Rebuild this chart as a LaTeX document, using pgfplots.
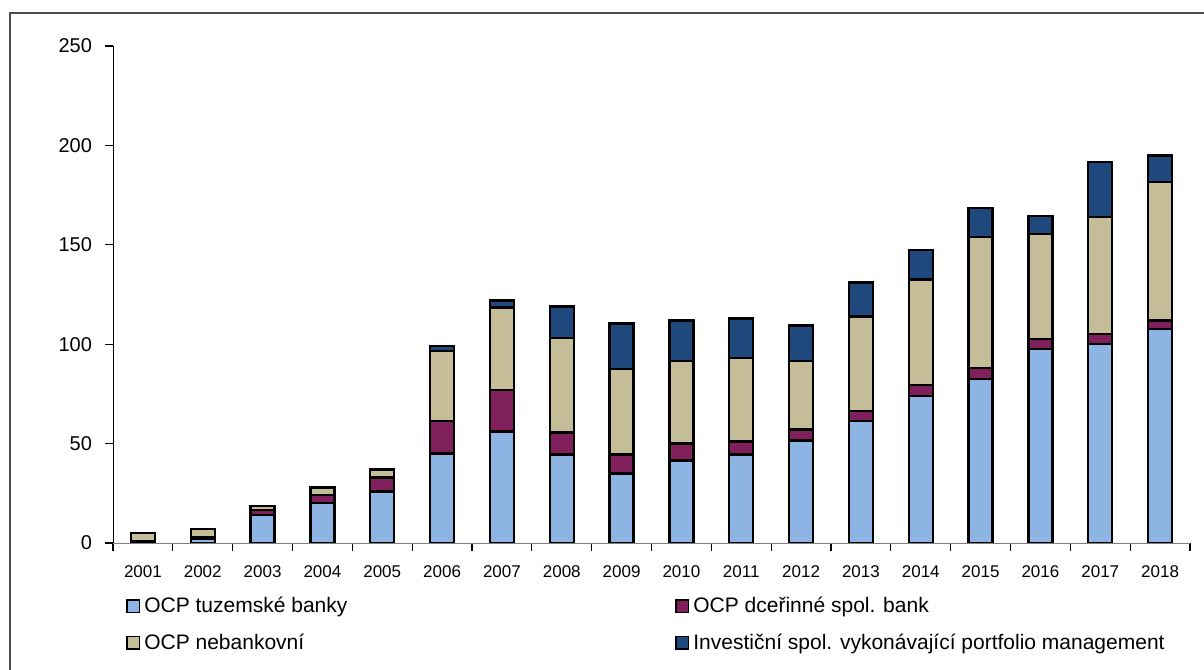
\documentclass[border=0pt]{standalone}
\usepackage{fontspec}
\setmainfont{Liberation Sans}
\usepackage{pgfplots}
\pgfplotsset{compat=1.18}
\usepackage{pgfplotstable}

\definecolor{tuz}{HTML}{8EB4E3}
\definecolor{dcer}{HTML}{7F1F5B}
\definecolor{neb}{HTML}{C4BD97}
\definecolor{inv}{HTML}{1F497D}

% rok: 1 = 2001 ... 18 = 2018
\pgfplotstableread{
rok tuz  dcer neb  inv
1   0    1    4    0
2   2    1    4    0
3   14   2.5  2    0
4   20   4    4    0
5   26   7    4    0
6   45   16.5 35   2.5
7   56   21   41.5 3.5
8   44.5 11   47.5 16
9   35   9.5  43   23
10  41.5 8.5  41.5 20.5
11  44.5 6.5  42   20
12  51.5 5.5  34.5 18
13  61.5 5    47.5 17
14  74   5.5  53   15
15  82.5 5.5  66   14.5
16  97.5 5    53   9
17  100  5    59   27.5
18  107.5 4.5 69.5 13.5
}\data

\begin{document}
\begin{tikzpicture}
\useasboundingbox (0,0) rectangle (602pt,334.5pt);
\clip (0,0) rectangle (602pt,334.5pt);
\draw[black!70, line width=0.6pt] (5pt,-20pt) rectangle (640pt,328pt);
\begin{axis}[
    at={(56.5pt,63pt)}, anchor=south west,
    scale only axis,
    width=538.5pt, height=248.5pt,
    ybar stacked,
    bar width=12pt,
    xmin=0.5, xmax=18.5,
    ymin=0, ymax=250,
    ytick={0,50,...,250},
    xtick={0.5,1.5,...,18.5},
    x tick label as interval,
    xticklabels={2001,2002,2003,2004,2005,2006,2007,2008,2009,2010,2011,2012,2013,2014,2015,2016,2017,2018},
    axis x line*=bottom,
    axis y line*=left,
    axis line style={-},
    x axis line style={draw=black!50},
    tick align=outside,
    major tick length=4pt,
    tick style={black, line width=0.6pt},
    /pgf/number format/assume math mode=true,
    yticklabel style={font=\fontsize{10}{12}\selectfont, xshift=-3pt},
    xticklabel style={font=\fontsize{8.5}{10}\selectfont, yshift=-4pt},
    legend columns=2,
    legend cell align=left,
    legend image code/.code={\draw[#1, line width=0.8pt] (0pt,-3.1pt) rectangle (6.2pt,3.1pt);},
    legend style={at={(0.012,-0.1)}, anchor=north west, draw=none, fill=none,
        inner sep=0pt, font=\fontsize{10.5}{12}\selectfont,
        /tikz/column 2/.style={column sep=162pt}, row sep=5pt},
    every axis plot/.append style={draw=black, line width=1.2pt},
]
\addplot[fill=tuz] table[x=rok, y=tuz] {\data};
\addplot[fill=dcer] table[x=rok, y=dcer] {\data};
\addplot[fill=neb] table[x=rok, y=neb] {\data};
\addplot[fill=inv] table[x=rok, y=inv] {\data};
\legend{OCP tuzemské banky, OCP dceřinné spol. bank, OCP nebankovní, Investiční spol. vykonávající portfolio management}
\end{axis}
\end{tikzpicture}
\end{document}
